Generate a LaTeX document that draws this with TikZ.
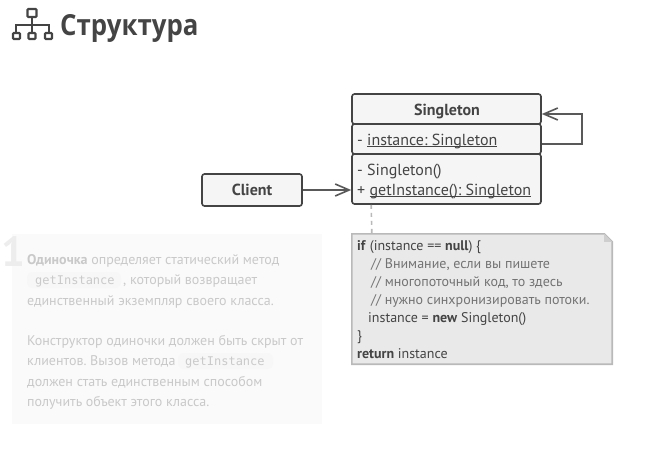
\documentclass[tikz,border=0pt]{standalone}
\usepackage{fontspec}
\setmainfont{PT Sans}
\newfontfamily\titlefont{Open Sans}
\setmonofont{DejaVu Sans Mono}
\usetikzlibrary{calc,arrows.meta}
\frenchspacing
\newcommand\ulin[1]{\setbox0=\hbox{#1}\rlap{\rule[-2.2pt]{\wd0}{1pt}}\box0 }
\definecolor{ink}{HTML}{444444}
\definecolor{linec}{HTML}{595959}
\definecolor{boxfill}{HTML}{F5F5F5}
\definecolor{notefill}{HTML}{E9E9E9}
\definecolor{noteline}{HTML}{B9B9B9}
\definecolor{faint}{HTML}{C9C9C9}
\definecolor{panelc}{HTML}{FAFAFA}
\definecolor{chipc}{HTML}{F7F7F7}
\definecolor{monoc}{HTML}{CACACA}
\tikzset{
  x=1pt,y=-1pt,
  umlbox/.style={draw=ink,line width=1.6pt,fill=boxfill,rounded corners=2.5pt,inner sep=0pt},
  conn/.style={draw=linec,line width=1.6pt},
  openarrow/.style={-{Straight Barb[length=14pt,width=12pt,line width=1.6pt]}},
  txt/.style={anchor=base west,inner sep=0pt,font=\fontsize{16}{18}\selectfont,text=ink},
  notetxt/.style={anchor=base west,inner sep=0pt,font=\fontsize{14}{16}\selectfont,text=ink},
  notecmt/.style={notetxt,text=black!55},
  paneltxt/.style={anchor=base west,inner sep=0pt,font=\fontsize{14}{16}\selectfont,text=faint},
  chip/.style={fill=chipc,rounded corners=6pt,inner sep=0pt},
  monotxt/.style={anchor=base west,inner sep=0pt,font=\ttfamily\fontsize{12}{14}\selectfont,text=monoc},
  iconbox/.style={draw=ink,line width=2.1pt,rounded corners=0.8pt,fill=white},
}
\begin{document}
\begin{tikzpicture}
\useasboundingbox (0,0) rectangle (669,456);
% title
\draw[ink,line width=2.1pt] (32,17) -- (32,32) (16,32) -- (16,25) -- (49,25) -- (49,32);
\path[iconbox] (27.5,9) rectangle (36.5,17);
\path[iconbox] (13,33) rectangle (20,39);
\path[iconbox] (28.5,33) rectangle (35.5,39);
\path[iconbox] (45,33) rectangle (52,39);
\node[anchor=base west,inner sep=0pt,font=\titlefont\bfseries\fontsize{29}{32}\selectfont,text=ink,xscale=0.89] (title) at (60,35) {Структура};
% panel
\fill[panelc] (12,234) rectangle (322,424);
\node[anchor=base west,inner sep=0pt,font=\bfseries\fontsize{42}{44}\selectfont,text=black!7] (num) at (1,266) {1};
\path[chip] (27,272) rectangle (121,288);
\path[chip] (178,353) rectangle (273,369);
\node[paneltxt] (p1) at (27,264) {\textbf{Одиночка} определяет статический метод};
\node[monotxt] (m1) at (35,284) {getInstance};
\node[paneltxt] (p2) at (123,284) {, который возвращает};
\node[paneltxt] (p3) at (27,305) {единственный экземпляр своего класса.};
\node[paneltxt] (p4) at (27,345) {Конструктор одиночки должен быть скрыт от};
\node[paneltxt] (p5) at (27,365) {клиентов. Вызов метода};
\node[monotxt] (m2) at (185,365) {getInstance};
\node[paneltxt] (p6) at (27,386) {должен стать единственным способом};
\node[paneltxt] (p7) at (27,406) {получить объект этого класса.};
% note
\node[inner sep=0pt,minimum width=260pt,minimum height=130pt] (note) at (482,299) {};
\draw[noteline,fill=notefill,line width=1.6pt] (note.north west) -- ($(note.north east)+(-8,0)$) -- ($(note.north east)+(0,8)$) -- (note.south east) -- (note.south west) -- cycle;
\fill[noteline!70!white] ($(note.north east)+(-8,0)$) -- ($(note.north east)+(-8,8)$) -- ($(note.north east)+(0,8)$) -- cycle;
\node[notetxt] (n1) at (357,250) {\textbf{if} (instance == \textbf{null}) \{};
\node[notecmt] (n2) at (371,268) {// Внимание, если вы пишете};
\node[notecmt] (n3) at (371,286) {// многопоточный код, то здесь};
\node[notecmt] (n4) at (371,304) {// нужно синхронизировать потоки.};
\node[notetxt] (n5) at (368,322) {instance = \textbf{new} Singleton()};
\node[notetxt] (n6) at (357,340) {\}};
\node[notetxt] (n7) at (357,358) {\textbf{return} instance};
% classes
\node[umlbox,minimum width=189pt,minimum height=30pt] (head) at (446.5,109) {};
\node[umlbox,minimum width=189pt,minimum height=30pt] (attrs) at (446.5,139) {};
\node[umlbox,minimum width=189pt,minimum height=50pt] (methods) at (446.5,179) {};
\node[umlbox,minimum width=100pt,minimum height=32pt,font=\bfseries\fontsize{16}{18}\selectfont,text=ink] (client) at (252,190) {Client};
\node[txt,font=\bfseries\fontsize{16}{18}\selectfont] (hname) at (414,115) {Singleton};
\node[txt] (a1) at (357,145) {- \ulin{instance: Singleton}};
\node[txt] (m3) at (357,175) {- Singleton()};
\node[txt] (m4) at (357,195) {+ \ulin{getInstance(): Singleton}};
% connectors
\draw[conn,openarrow] (client.east) -- (methods.west |- client.east);
\draw[conn,openarrow] ([yshift=-5pt]attrs.east) -- ++(40,0) |- ([yshift=-5pt]head.east);
\draw[noteline,line width=1.6pt,dash pattern=on 4pt off 4pt] ($(methods.south west)+(20,0)$) -- ($(note.north west)+(20,0)$);
\end{tikzpicture}
\end{document}
